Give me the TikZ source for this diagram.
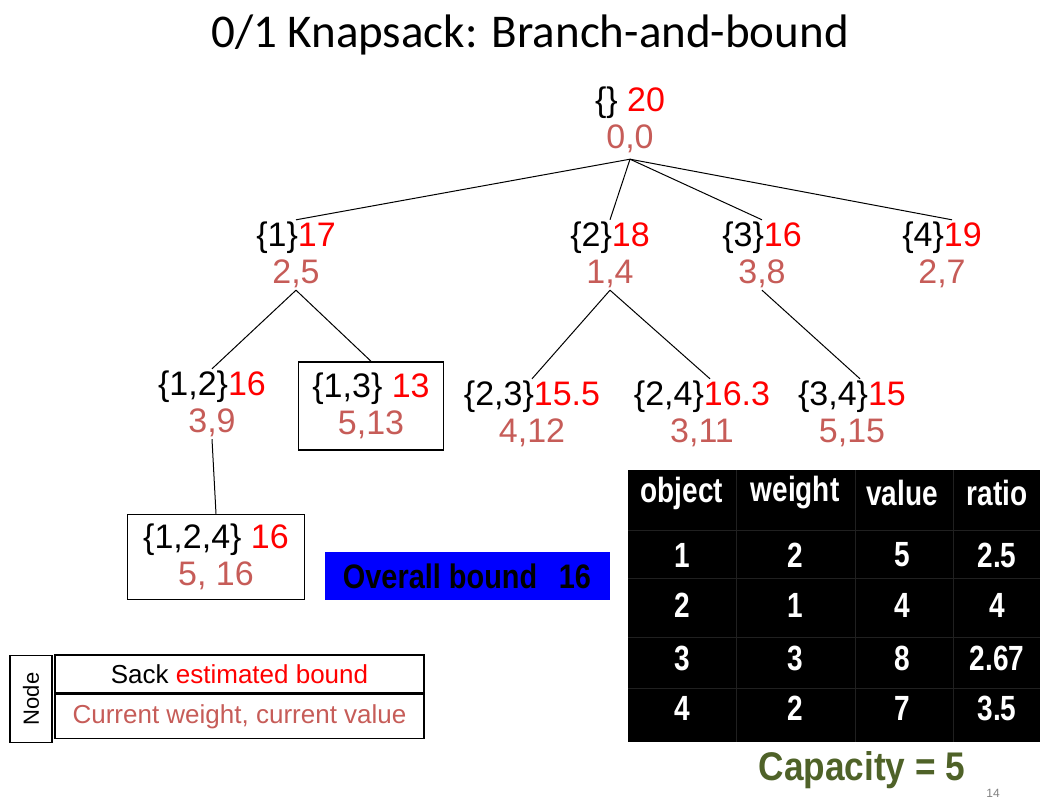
\documentclass[tikz,border=0pt]{standalone}
\usepackage{fontspec}
\setmainfont{Liberation Sans}
\newfontfamily\titlefont{Carlito}
\usepackage{tikz}
\definecolor{boundred}{RGB}{255,0,0}
\definecolor{wvpink}{RGB}{198,92,88}
\definecolor{capgreen}{RGB}{79,98,40}
\definecolor{gridgray}{RGB}{32,32,32}
% sack, bound, weight/value
\newcommand{\sk}[3]{#1\textcolor{boundred}{#2}\\\textcolor{wvpink}{#3}}
\newcommand{\narrow}[1]{\scalebox{0.8}[1]{#1}}

\begin{document}
\begin{tikzpicture}[x=1pt,y=-1pt,
	sack/.style={align=center,inner sep=2pt,font=\fontsize{34}{37}\selectfont},
	boxed/.style={sack,draw,line width=1.5pt},
	tabtext/.style={text=white,font=\bfseries\fontsize{35}{37}\selectfont},
	keybox/.style={draw,line width=1.5pt,inner sep=0pt,font=\fontsize{26}{28}\selectfont},
	edge/.style={line width=1pt}]
				\useasboundingbox (0,0) rectangle (1040,800);
				
				\node[font=\titlefont\fontsize{47}{49}\selectfont] (title) at (530,35) {0/1 Knapsack: Branch-and-bound};
				
				\node[sack,inner ysep=6pt] (root) at (630,120) {\sk{\{\} }{20}{0,0}};
				\node[sack] (n1) at (296,255) {\sk{\{1\}}{17}{2,5}};
				\node[sack] (n2) at (610,255) {\sk{\{2\}}{18}{1,4}};
				\node[sack] (n3) at (762,255) {\sk{\{3\}}{16}{3,8}};
				\node[sack] (n4) at (942,255) {\sk{\{4\}}{19}{2,7}};
				\node[sack] (n12) at (212,404) {\sk{\{1,2\}}{16}{3,9}};
				\node[boxed,minimum width=145,minimum height=88] (n13) at (371,406) {\sk{\{1,3\} }{13}{5,13}};
				\node[sack] (n23) at (532,414) {\sk{\{2,3\}}{15.5}{4,12}};
				\node[sack] (n24) at (702,414) {\sk{\{2,4\}}{16.3}{3,11}};
				\node[sack] (n34) at (852,414) {\sk{\{3,4\}}{15}{5,15}};
				\node[boxed,minimum width=177,minimum height=85] (n124) at (216,557) {\sk{\{1,2,4\} }{16}{5, 16}};
				
				\draw[edge] (root.south) -- (n1.north);
				\draw[edge] (root.south) -- (n2.north);
				\draw[edge] (root.south) -- (n3.north);
				\draw[edge] (root.south) -- ([xshift=10pt]n4.north);
				\draw[edge] (n1.south) -- (n12.north);
				\draw[edge] (n1.south) -- (n13.north);
				\draw[edge] (n2.south) -- (n23.north);
				\draw[edge] (n2.south) -- ([xshift=8pt]n24.north);
				\draw[edge] (n3.south) -- ([xshift=8pt]n34.north);
				\draw[edge] (n12.south) -- (n124.north);
				
				\node[fill=blue,minimum width=285,minimum height=48,font=\bfseries\fontsize{34}{36}\selectfont] (overall) at (467,576) {\scalebox{0.85}[1]{Overall bound\hspace{0.75em}16}};
				
				\node[fill=black,minimum width=412,minimum height=272,inner sep=0pt] (table) at (834,606) {};
				\draw[gridgray] (736,470) -- (736,742);
				\draw[gridgray] (855,470) -- (855,742);
				\draw[gridgray] (953,470) -- (953,742);
				\draw[gridgray] (628,530) -- (1040,530);
				\draw[gridgray] (628,578) -- (1040,578);
				\draw[gridgray] (628,637) -- (1040,637);
				\draw[gridgray] (628,688) -- (1040,688);
				
				\node[tabtext] (hobj) at (682,493) {\narrow{object}};
				\node[tabtext] (hwt) at (795,493) {\narrow{weight}};
				\node[tabtext] (hval) at (902,493) {\narrow{value}};
				\node[tabtext] (hrat) at (997,493) {\narrow{ratio}};
				\foreach \y/\o/\w/\v/\r in {555/1/2/5/2.5,605/2/1/4/4,658/3/3/8/2.67,708/4/2/7/3.5}{
					\node[tabtext] (obj\o) at (682,\y) {\narrow{\o}};
					\node[tabtext] (wt\o) at (795,\y) {\narrow{\w}};
					\node[tabtext] (val\o) at (902,\y) {\narrow{\v}};
					\node[tabtext] (rat\o) at (997,\y) {\narrow{\r}};
				}
				
				\node[text=capgreen,font=\bfseries\fontsize{40}{42}\selectfont] (cap) at (862,770) {\scalebox{0.88}[1]{Capacity = 5}};
				\node[text=gray,font=\fontsize{12}{12}\selectfont] (page) at (993,793) {14};
				
				\node[keybox,rotate=90,minimum width=87,minimum height=42,font=\fontsize{22}{22}\selectfont] (nodekey) at (31,699) {Node};
				\node[keybox,minimum width=369,minimum height=38] (keytop) at (239.5,674) {Sack \textcolor{boundred}{estimated bound}};
				\node[keybox,minimum width=369,minimum height=44,anchor=north] (keybot) at (keytop.south) {\textcolor{wvpink}{Current weight, current value}};
			\end{tikzpicture}
\end{document}
